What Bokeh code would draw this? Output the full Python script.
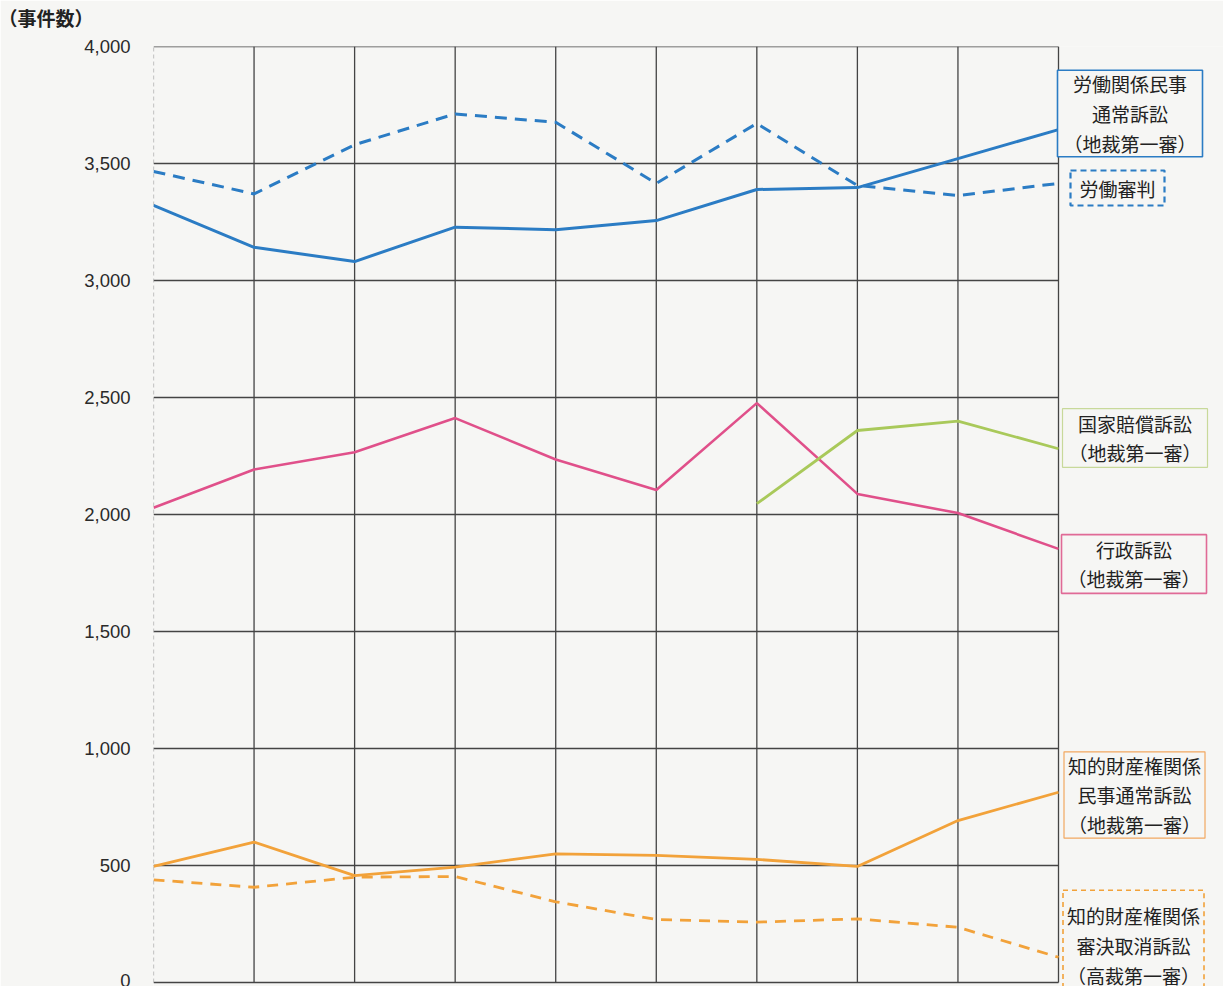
from bokeh.plotting import figure
from bokeh.models import Label, Span, FixedTicker, NumeralTickFormatter, Range1d
from bokeh.embed import file_html
from bokeh.resources import INLINE

# ---- data ----
periods = list(range(10))
labor_civil = [3321, 3142, 3081, 3228, 3217, 3256, 3389, 3397, 3521, 3645]
labor_tribunal = [3466, 3370, 3580, 3712, 3676, 3415, 3671, 3406, 3363, 3415]
administrative = [2029, 2192, 2266, 2412, 2235, 2105, 2476, 2088, 2006, 1853]
state_comp_x = [6, 7, 8, 9]
state_comp = [2046, 2359, 2399, 2281]
ip_civil = [496, 600, 457, 493, 550, 543, 526, 496, 692, 813]
ip_appeal = [439, 407, 450, 453, 345, 269, 258, 272, 236, 108]
y_ticks = [0, 500, 1000, 1500, 2000, 2500, 3000, 3500, 4000]
unit_label = "（事件数）"
series_labels = [
    "労働関係民事\n通常訴訟\n（地裁第一審）",
    "労働審判",
    "国家賠償訴訟\n（地裁第一審）",
    "行政訴訟\n（地裁第一審）",
    "知的財産権関係\n民事通常訴訟\n（地裁第一審）",
    "知的財産権関係\n審決取消訴訟\n（高裁第一審）",
]

BLUE = "#2b7cc4"
PINK = "#e0508a"
GREEN = "#a9c95a"
ORANGE = "#f2a23a"
BG = "#f6f6f4"
GRID = "#444444"
JP = "Noto Sans CJK JP"

# page geometry of the reference frame
FL, FR9, FT, FB, W, H = 153, 1058, 46, 982, 1223, 986
step = (FR9 - FL) / 9
x_end = (W - FL) / step
yscale = (FB - FT) / 4000
y_start = -(H - FB) / yscale

p = figure(width=W, height=H, output_backend="svg", toolbar_location=None,
           x_range=Range1d(0, x_end), y_range=Range1d(y_start, 4000),
           min_border_left=FL, min_border_right=0, min_border_top=FT,
           min_border_bottom=0)
p.background_fill_color = BG
p.border_fill_color = BG
p.outline_line_color = None

p.title.text = unit_label
p.title.align = "left"
p.title.offset = -(FL + 2)
p.title.text_font = JP
p.title.text_font_size = "19px"
p.title.text_font_style = "bold"
p.title.text_color = "#222222"
p.title.standoff = 0
p.title.padding = dict(left=0, right=0, top=0, bottom=16)

p.xaxis.visible = False
yax = p.yaxis[0]
yax.ticker = FixedTicker(ticks=y_ticks)
yax.formatter = NumeralTickFormatter(format="0,0")
yax.axis_line_color = None
yax.major_tick_line_color = None
yax.minor_tick_line_color = None
yax.major_tick_out = 0
yax.major_label_standoff = 23
yax.major_label_text_font = "Liberation Sans"
yax.major_label_text_font_size = "18.5px"
yax.major_label_text_color = "#2a2a2a"

p.xgrid.grid_line_color = None
p.ygrid.grid_line_color = None
n = len(y_ticks)
m = len(periods) - 1
p.segment(x0=[periods[0]] * n, y0=y_ticks, x1=[periods[-1]] * n, y1=y_ticks,
          line_color=GRID, line_width=1.3)
p.segment(x0=periods[1:], y0=[y_ticks[0]] * m, x1=periods[1:], y1=[y_ticks[-1]] * m,
          line_color=GRID, line_width=1.3)
p.segment(x0=[periods[0]], y0=[y_ticks[0]], x1=[periods[0]], y1=[y_ticks[-1]],
          line_color="#9a9a9a", line_width=1.2, line_dash="4 3")

p.line(periods, labor_civil, line_color=BLUE, line_width=3)
p.line(periods, labor_tribunal, line_color=BLUE, line_width=3, line_dash="12 8")
p.line(periods, administrative, line_color=PINK, line_width=2.6)
p.line(state_comp_x, state_comp, line_color=GREEN, line_width=2.8)
p.line(periods, ip_civil, line_color=ORANGE, line_width=2.8)
p.line(periods, ip_appeal, line_color=ORANGE, line_width=2.8, line_dash="11 8")

def px2x(px):
    return (px - FL) / step

def py2y(py):
    return (FB - py) / yscale

box_specs = [
    # centre x, centre y, border colour, width, dash, padding
    (1129.5, 113, BLUE, 1.6, "solid", dict(left=6, right=6, top=0, bottom=0)),
    (1117, 187.5, BLUE, 2.2, "6 4", dict(left=9, right=9, top=4, bottom=4)),
    (1134.5, 437.5, "#c8d99a", 1.2, "solid", dict(left=6, right=6, top=1, bottom=1)),
    (1133.5, 563.5, "#e06a96", 1.6, "solid", dict(left=6, right=6, top=1, bottom=1)),
    (1134, 794.5, "#f2a860", 1.2, "solid", dict(left=4, right=4, top=0, bottom=0)),
    (1133, 945, ORANGE, 1.6, "5 4", dict(left=4, right=4, top=12, bottom=12)),
]
for text, (cx, cy, col, lw, dash, pad) in zip(series_labels, box_specs):
    p.add_layout(Label(x=px2x(cx), y=py2y(cy), text=text, text_align="center",
                       text_baseline="middle", text_font=JP, text_font_size="19px",
                       text_color="#222222", text_line_height=1.1,
                       border_line_color=col, border_line_width=lw,
                       border_line_dash=dash, background_fill_color=BG,
                       padding=pad))

open("out.html", "w").write(file_html(p, INLINE))
